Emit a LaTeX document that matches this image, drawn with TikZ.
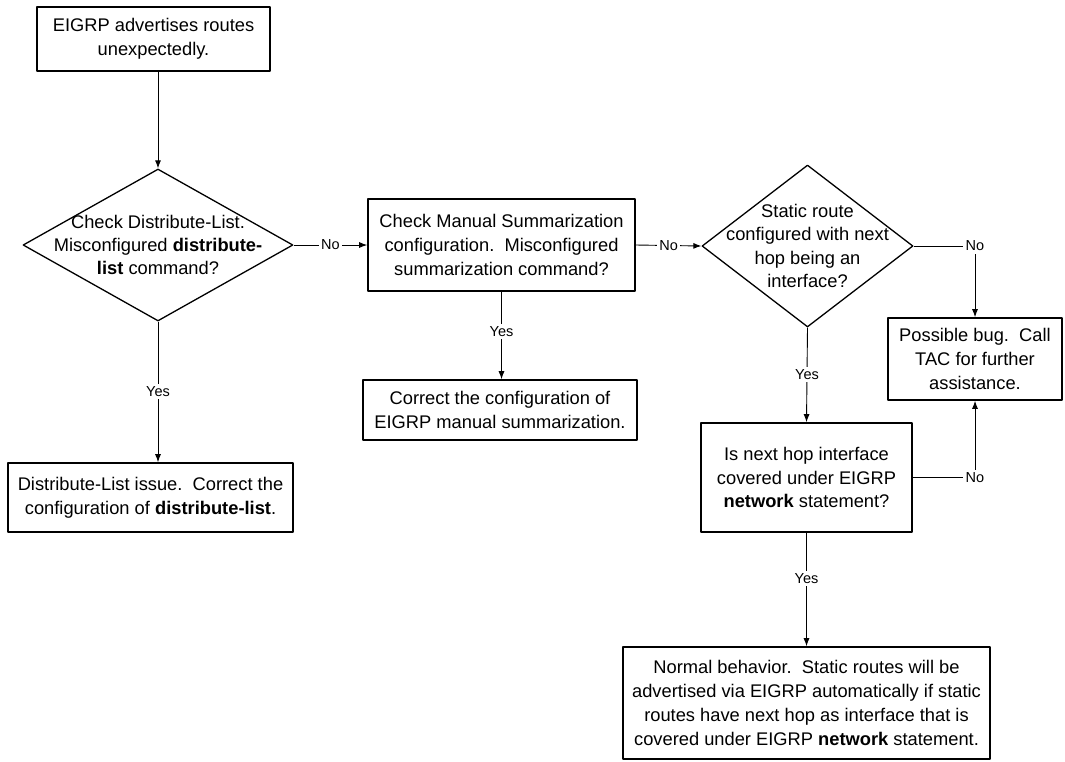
\documentclass[tikz,border=0pt]{standalone}
\usepackage{fontspec}
\setmainfont{Liberation Sans}
\usetikzlibrary{shapes.geometric,arrows.meta}

\tikzset{
  box/.style={draw,line width=1.6pt,align=center,inner sep=0pt,font=\fontsize{18.3}{23.8}\selectfont},
  dia/.style={draw,diamond,line width=1.3pt,inner sep=0pt},
  dtext/.style={align=center,inner sep=0pt,font=\fontsize{18.3}{23.3}\selectfont},
  flow/.style={line width=0.9pt,-{Latex[length=8pt,width=6pt]}},
  lbl/.style={fill=white,inner sep=2.5pt,font=\fontsize{14.5}{17}\selectfont},
}

\begin{document}
\begin{tikzpicture}[x=1pt,y=-1pt,line join=round]

\useasboundingbox (0,0) rectangle (1065,761);

% boxes
\node[box,minimum width=233pt,minimum height=64pt] (start) at (153.5,39)
  {EIGRP advertises routes\\unexpectedly.};

\node[dia,minimum width=270pt,minimum height=152pt] (dl) at (158,245) {};
\node[dtext] (dltext) at (dl) {Check Distribute-List.\\Misconfigured \textbf{distribute-}\\\textbf{list} command?};

\node[box,minimum width=285pt,minimum height=69pt] (dlfix) at (150.5,497.5)
  {Distribute-List issue.\ \ Correct the\\configuration of \textbf{distribute-list}.};

\node[box,minimum width=267pt,minimum height=92pt] (ms) at (501.5,245)
  {Check Manual Summarization\\configuration.\ \ Misconfigured\\summarization command?};

\node[box,minimum width=274pt,minimum height=60pt] (msfix) at (500,410)
  {Correct the configuration of\\EIGRP manual summarization.};

\node[dia,minimum width=211pt,minimum height=162pt] (st) at (807.5,246) {};
\node[dtext] (sttext) at (st) {Static route\\configured with next\\hop being an\\interface?};

\node[box,minimum width=174pt,minimum height=82pt] (bug) at (975,359)
  {Possible bug.\ \ Call\\TAC for further\\assistance.};

\node[box,minimum width=211pt,minimum height=109pt] (nh) at (806.5,477.5)
  {Is next hop interface\\covered under EIGRP\\\textbf{network} statement?};

\node[box,minimum width=367pt,minimum height=112pt] (ok) at (806.5,703)
  {Normal behavior.\ \ Static routes will be\\advertised via EIGRP automatically if static\\routes have next hop as interface that is\\covered under EIGRP \textbf{network} statement.};

% connectors
\draw[flow] (start.south -| dl.north) -- (dl.north);
\draw[flow] (dl.south) -- node[lbl]{Yes} (dl.south |- dlfix.north);
\draw[flow] (dl.east) -- node[lbl]{No} (ms.west);
\draw[flow] (ms.south) -- node[lbl,pos=0.45]{Yes} (ms.south |- msfix.north);
\draw[flow] (ms.east) -- node[lbl]{No} (st.west);
\draw[flow] (st.east) -| node[lbl]{No} (bug.north);
\draw[flow] (st.south) -- node[lbl]{Yes} (nh.north);
\draw[flow] (nh.east) -| node[lbl]{No} (bug.south);
\draw[flow] (nh.south) -- node[lbl,pos=0.4]{Yes} (ok.north);

\end{tikzpicture}
\end{document}
